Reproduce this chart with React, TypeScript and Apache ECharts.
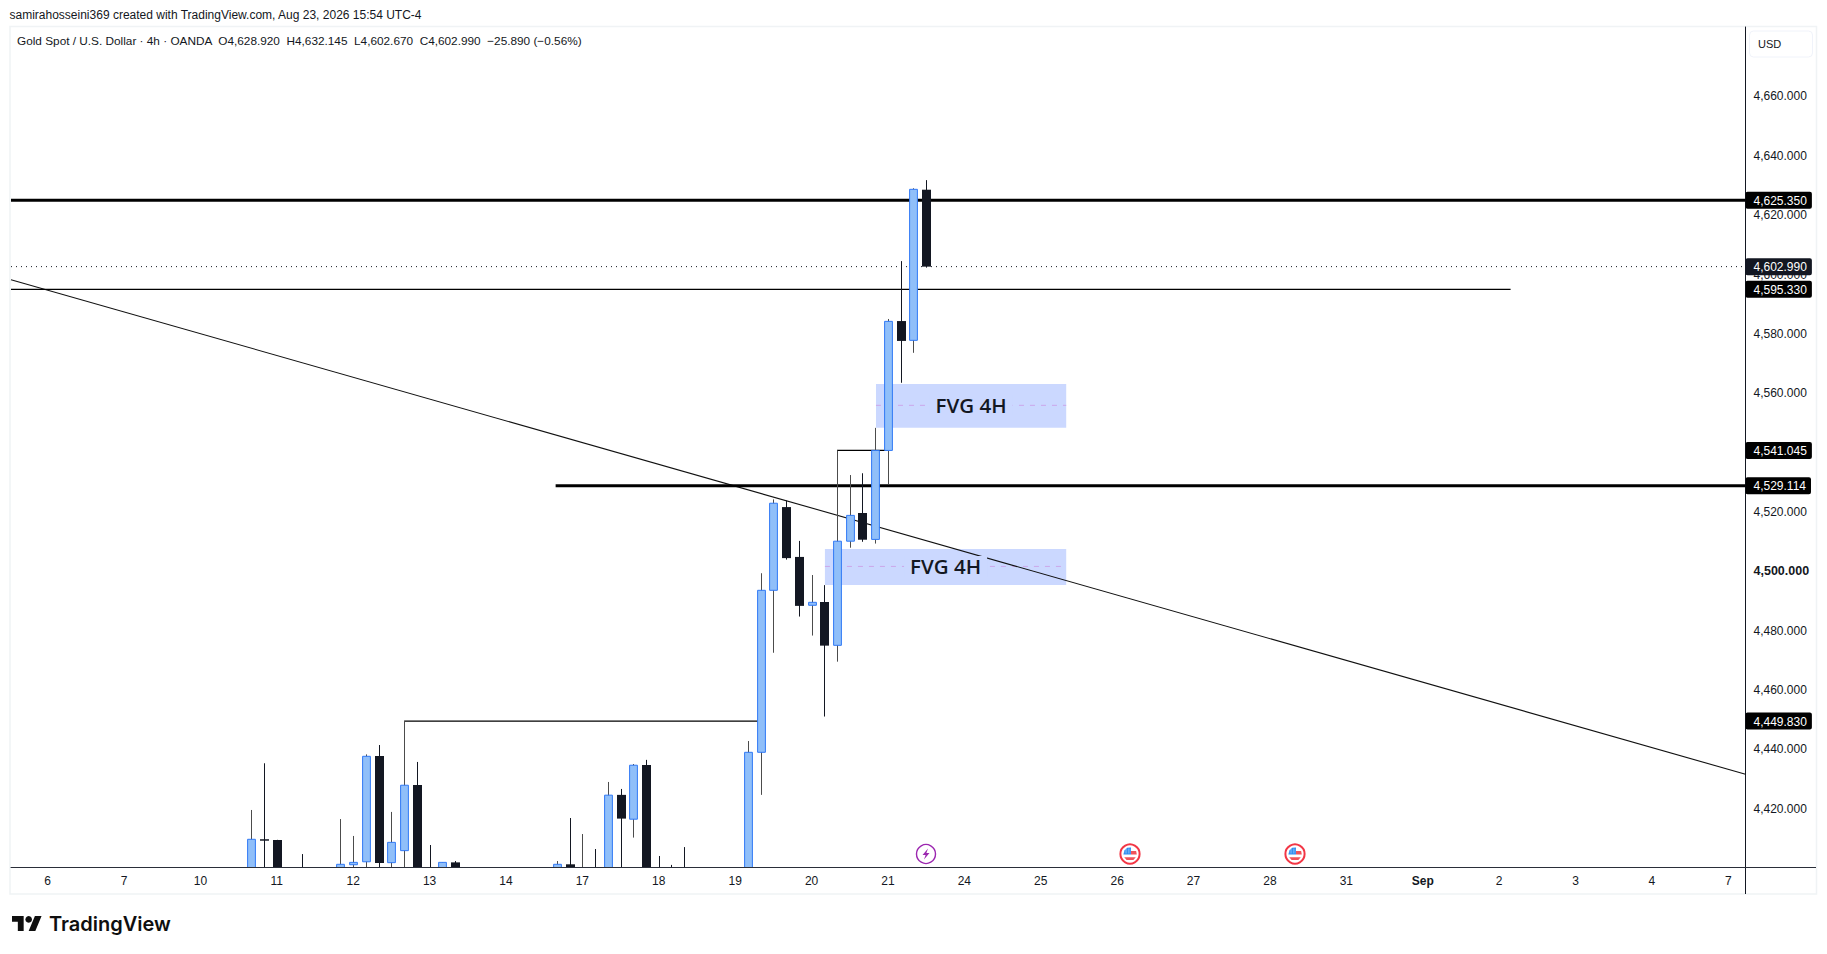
import React, { useEffect, useRef } from "react";
import * as echarts from "echarts";

// 4h bars: slot 0 is the first bar of Aug 6, six bars per session day
const candleSlots = [16,17,18,20,23,24,25,26,27,28,29,30,31,32,40,41,42,43,44,45,46,47,48,49,50,55,56,57,58,59,60,61,62,63,64,65,66,67,68,69];
const opens  = [4398,4410,4409.75,4395,4398,4401.4,4402.4,4438.05,4402.1,4406.15,4428.3,4397,4396,4402.2,4396,4401.55,4392,4396,4396,4424.95,4416.75,4435.05,4396,4396,4396,4396,4439.3,4493.9,4521.95,4505.15,4488.85,4489.95,4475.35,4510.45,4519.95,4511.05,4541.05,4584.65,4578.15,4628.92];
const highs  = [4419.86,4435.6,4409.8,4405,4416.8,4411.1,4438.6,4441.75,4419.2,4449.83,4436.05,4408.05,4402.2,4402.65,4402.65,4417.15,4411.75,4406.7,4429.3,4426.95,4435.35,4436.75,4404.35,4401.35,4407.35,4443.1,4499.65,4524.55,4524.15,4510.55,4499.05,4495.65,4541.05,4532.75,4533.35,4548.65,4585.35,4604.85,4629.4,4632.145];
const lows   = [4395,4398,4390,4388,4394,4396,4398,4395,4398,4396,4392,4390,4392,4390,4392,4390,4388,4388,4392,4395,4410.55,4392,4390,4390,4390,4392,4424.95,4472.85,4504.25,4485.05,4478.65,4451.35,4469.85,4508.25,4510.25,4509.65,4529.65,4563.85,4573.95,4602.67];
const closes = [4409.98,4409.5,4396,4392,4401.55,4402.2,4437.95,4402,4408.95,4428.2,4396,4394,4402.2,4395,4401.55,4396,4396,4392,4424.85,4416.95,4434.95,4396,4393,4393,4393,4439.3,4493.9,4523.25,4504.75,4488.65,4489.85,4475.25,4510.45,4519.15,4510.95,4541.05,4584.55,4577.95,4629.05,4602.99];

const dayLabels = ["6","7","10","11","12","13","14","17","18","19","20","21","24","25","26","27","28","31","Sep","2","3","4","7"];
const barsPerDay = 6;

const priceTicks = [4420,4440,4460,4480,4500,4520,4540,4560,4580,4600,4620,4640,4660];
const priceTags = [4625.35,4595.33,4541.045,4529.114,4449.83];
const lastPrice = 4602.99;

const trendSlots = [-2.874,133.35];
const trendPrices = [4598.6,4431.9];

const upperFvgSlots = [65.06,80];
const upperFvgPrices = [4563.45,4548.65,4556.25];
const lowerFvgSlots = [61.05,80];
const lowerFvgPrices = [4507.85,4495.65,4501.95];

const rayHighSlots = [62,66];
const rayHighPrice = 4541.045;
const rayLowSlots = [28,56];
const rayLowPrice = 4449.83;
const resistanceThinEnd = 114.9;
const supportThickStart = 39.9;

const eventSlots = [69,85,98];
const eventKinds = ["spark","us","us"];

const headerText = "samirahosseini369 created with TradingView.com, Aug 23, 2026 15:54 UTC-4";
const legendText = "Gold Spot / U.S. Dollar \u00b7 4h \u00b7 OANDA  O4,628.920  H4,632.145  L4,602.670  C4,602.990  \u221225.890 (\u22120.56%)";

const XMIN = -2.874;
const XMAX = 133.35;
const YMIN = 4400.64;
const YMAX = 4683.76;
const INK = "#131722";
const FONT = "'Liberation Sans', Arial, sans-serif";

const fmtPrice = (v: number) =>
  v.toLocaleString("en-US", { minimumFractionDigits: 3, maximumFractionDigits: 3 });

function lineSeries(xs: number[], ys: number[], width: number, color: string, type: any = "solid", z = 2) {
  return {
    type: "line",
    data: xs.map((x, i) => [x, ys[i]]),
    symbol: "none",
    silent: true,
    clip: true,
    z,
    lineStyle: { width, color, type, cap: "butt" },
  };
}

function fvgArea(xs: number[], ps: number[]) {
  return {
    type: "line",
    data: [],
    silent: true,
    z: 1,
    markArea: {
      silent: true,
      itemStyle: { color: "#cbd8ff", borderWidth: 0 },
      label: { show: false },
      data: [[{ coord: [xs[0], ps[0]] }, { coord: [xs[1], ps[1]] }]],
    },
  };
}

const LOGO_D = "M14 22H7V11H0V4h14v18zM28 22h-8l7.5-18h8L28 22z";
echarts.graphic.registerShape("tvlogo", echarts.graphic.extendPath(LOGO_D, {}) as any);

export default function App() {
  const ref = useRef<HTMLDivElement>(null);
  useEffect(() => {
    const chart = echarts.init(ref.current!, undefined, { renderer: "svg" });

    const renderCandle = (params: any, api: any) => {
      const x = api.value(0);
      const o = api.value(1), h = api.value(2), l = api.value(3), c = api.value(4);
      const up = c >= o;
      const px = Math.round(api.coord([x, o])[0]) + 0.5;
      const yO = api.coord([x, o])[1];
      const yC = api.coord([x, c])[1];
      const yH = api.coord([x, h])[1];
      const yL = api.coord([x, l])[1];
      const top = Math.min(yO, yC);
      const bh = Math.max(Math.abs(yO - yC), 1);
      return {
        type: "group",
        children: [
          {
            type: "line",
            shape: { x1: px, y1: yH, x2: px, y2: yL },
            style: { stroke: up ? "#4c4c4c" : INK, lineWidth: 1 },
          },
          up
            ? {
                type: "rect",
                shape: { x: px - 3.9, y: top, width: 7.8, height: bh },
                style: { fill: "#90bff9", stroke: "#3179f5", lineWidth: 1 },
              }
            : {
                type: "rect",
                shape: { x: px - 4.5, y: top, width: 9, height: bh },
                style: { fill: INK },
              },
        ],
      };
    };

    const renderEvent = (params: any, api: any) => {
      const cx = Math.round(api.coord([api.value(0), YMIN])[0]);
      const cy = params.coordSys.y + params.coordSys.height - 13;
      if (eventKinds[params.dataIndex] === "spark") {
        return {
          type: "group",
          children: [
            { type: "circle", shape: { cx, cy, r: 9.5 }, style: { fill: "#fff", stroke: "#9c27b0", lineWidth: 1.4 } },
            {
              type: "polygon",
              shape: { points: [[cx + 2, cy - 5.5], [cx - 3.5, cy + 1], [cx - 0.4, cy + 1], [cx - 2, cy + 5.5], [cx + 3.5, cy - 1], [cx + 0.4, cy - 1]] },
              style: { fill: "#9c27b0" },
            },
          ],
        };
      }
      const red = "#f0535a";
      const blue = "#2d8cf0";
      const cells: any[] = [];
      for (let r = 0; r < 3; r++) {
        for (let k = 0; k < 4; k++) {
          cells.push({ type: "rect", shape: { x: cx - 5.2 + k * 1.6, y: cy - 5.2 + r * 1.8, width: 0.7, height: 0.8 }, style: { fill: "#cfe4fb" } });
        }
      }
      return {
        type: "group",
        children: [
          { type: "circle", shape: { cx, cy, r: 9.6 }, style: { fill: "#fff", stroke: "#f23645", lineWidth: 2 } },
          { type: "polygon", shape: { points: [[cx - 6.6, cy + 0.6], [cx - 5.6, cy - 3.6], [cx - 2.8, cy - 6.2], [cx + 1, cy - 6.6], [cx + 1, cy + 0.6]] }, style: { fill: blue } },
          { type: "polygon", shape: { points: [[cx + 1, cy - 3], [cx + 6.1, cy - 3], [cx + 6.8, cy + 0.6], [cx + 1, cy + 0.6]] }, style: { fill: red } },
          { type: "polygon", shape: { points: [[cx - 5.8, cy + 3.2], [cx + 5.8, cy + 3.2], [cx + 3.4, cy + 6], [cx - 3.4, cy + 6]] }, style: { fill: red } },
          ...cells,
        ],
      };
    };

    const renderFvgText = (_p: any, api: any) => {
      const pt = api.coord([api.value(0), api.value(1)]);
      return {
        type: "text",
        x: pt[0],
        y: pt[1],
        style: {
          text: "FVG 4H",
          x: 0,
          y: 0,
          align: "center",
          verticalAlign: "middle",
          fill: INK,
          font: "600 20.5px 'Open Sans', sans-serif",
          backgroundColor: "#cbd8ff",
          padding: [0, 6],
        },
      };
    };

    const tagSet = new Set(priceTags);
    const yLabels = [...priceTicks, ...priceTags, lastPrice];

    chart.setOption({
      animation: false,
      backgroundColor: "#ffffff",
      grid: { left: 11, top: 27, width: 1734.5, height: 840, containLabel: false },
      xAxis: {
        type: "value",
        min: XMIN,
        max: XMAX,
        splitLine: { show: false },
        axisTick: { show: false },
        axisLine: { show: true, onZero: false, lineStyle: { color: "#2a2e39", width: 1 } },
        axisLabel: {
          customValues: dayLabels.map((_, i) => i * barsPerDay),
          margin: 8,
          hideOverlap: false,
          showMinLabel: true,
          showMaxLabel: true,
          color: INK,
          fontFamily: FONT,
          fontSize: 12,
          formatter: (v: number) => {
            const s = dayLabels[Math.round(v / barsPerDay)] ?? "";
            return s === "Sep" ? `{b|${s}}` : s;
          },
          rich: { b: { fontWeight: "bold", color: INK, fontFamily: FONT, fontSize: 12 } },
        },
      },
      yAxis: {
        type: "value",
        position: "right",
        min: YMIN,
        max: YMAX,
        splitLine: { show: false },
        axisTick: { show: false },
        axisLine: { show: true, onZero: false, lineStyle: { color: INK, width: 1 } },
        axisLabel: {
          customValues: yLabels,
          margin: 0,
          hideOverlap: false,
          showMinLabel: true,
          showMaxLabel: true,
          align: "left",
          fontFamily: FONT,
          fontSize: 12,
          formatter: (v: number) => {
            const s = fmtPrice(v);
            if (v === lastPrice) return `{last|${s}}`;
            if (tagSet.has(v)) return `{tag|${s}}`;
            if (v === 4500) return `{strong|${s}}`;
            return `{tick|${s}}`;
          },
          rich: {
            tick: { color: INK, fontFamily: FONT, fontSize: 12, padding: [0, 0, 2, 8] },
            strong: { color: INK, fontFamily: FONT, fontSize: 12.5, fontWeight: "bold", padding: [0, 0, 2, 8] },
            tag: { color: "#fff", backgroundColor: "#000", fontFamily: FONT, fontSize: 12, padding: [3, 5, 2, 8], borderRadius: 2 },
            last: { color: "#fff", backgroundColor: INK, fontFamily: FONT, fontSize: 12, padding: [3, 5, 2, 8], borderRadius: 2 },
          },
        },
      },
      graphic: [
        { type: "rect", silent: true, z: -1, shape: { x: 10, y: 26.5, width: 1806.5, height: 867.5 }, style: { fill: "none", stroke: "#f0f3f5", lineWidth: 1.5 } },
        { type: "line", silent: true, shape: { x1: 1745.5, y1: 867, x2: 1745.5, y2: 894 }, style: { stroke: INK, lineWidth: 1 } },
        { type: "line", silent: true, shape: { x1: 1745, y1: 867.5, x2: 1816, y2: 867.5 }, style: { stroke: "#2a2e39", lineWidth: 1 } },
        { type: "rect", silent: true, shape: { x: 1749.5, y: 31, width: 63, height: 26, r: 4 }, style: { fill: "#fff", stroke: "#f0f3fa", lineWidth: 1 } },
        { type: "text", silent: true, style: { x: 1758, y: 44, text: "USD", verticalAlign: "middle", fill: INK, font: `11px ${FONT}` } },
        { type: "text", silent: true, style: { x: 9.5, y: 15, text: headerText, verticalAlign: "middle", fill: INK, font: `12px ${FONT}` } },
        { type: "text", silent: true, style: { x: 17, y: 41, text: legendText, verticalAlign: "middle", fill: INK, font: `11.8px ${FONT}` } },
        { type: "tvlogo", silent: true, x: 12, y: 912.7, scaleX: 0.833, scaleY: 0.833, style: { fill: "#0f0f0f" } },
        { type: "circle", silent: true, shape: { cx: 28.7, cy: 919.4, r: 3.3 }, style: { fill: "#0f0f0f" } },
        { type: "text", silent: true, style: { x: 49, y: 924, text: "TradingView", verticalAlign: "middle", fill: "#0f0f0f", font: "600 20px Inter, sans-serif" } },
      ],
      series: [
        fvgArea(upperFvgSlots, upperFvgPrices),
        fvgArea(lowerFvgSlots, lowerFvgPrices),
        lineSeries(upperFvgSlots, [upperFvgPrices[2], upperFvgPrices[2]], 1, "#cba6ea", [5, 6]),
        lineSeries(lowerFvgSlots, [lowerFvgPrices[2], lowerFvgPrices[2]], 1, "#cba6ea", [5, 6]),
        lineSeries(trendSlots, trendPrices, 1.1, "#111111"),
        lineSeries([XMIN, XMAX], [priceTags[0], priceTags[0]], 3, "#000"),
        lineSeries([XMIN, XMAX], [lastPrice, lastPrice], 1, INK, [1, 4]),
        lineSeries([XMIN, resistanceThinEnd], [priceTags[1], priceTags[1]], 1.2, "#000"),
        lineSeries([supportThickStart, XMAX], [priceTags[3], priceTags[3]], 3, "#000"),
        lineSeries(rayHighSlots, [rayHighPrice, rayHighPrice], 1.2, "#000"),
        lineSeries(rayLowSlots, [rayLowPrice, rayLowPrice], 1.2, "#000"),
        {
          type: "custom",
          z: 3,
          silent: true,
          clip: true,
          encode: { x: 0, y: 1 },
          renderItem: renderFvgText,
          data: [
            [(upperFvgSlots[0] + upperFvgSlots[1]) / 2, upperFvgPrices[2]],
            [(lowerFvgSlots[0] + lowerFvgSlots[1]) / 2, lowerFvgPrices[2]],
          ],
        },
        {
          type: "custom",
          z: 5,
          silent: true,
          clip: true,
          encode: { x: 0, y: [1, 2, 3, 4] },
          renderItem: renderCandle,
          data: candleSlots.map((s, i) => [s, opens[i], highs[i], lows[i], closes[i]]),
        },
        {
          type: "custom",
          z: 6,
          silent: true,
          encode: { x: 0 },
          renderItem: renderEvent,
          data: eventSlots.map((s) => [s]),
        },
      ],
    });
    return () => chart.dispose();
  }, []);
  return <div ref={ref} style={{ position: "absolute", left: 0, top: 0, width: 1827, height: 954 }} />;
}
